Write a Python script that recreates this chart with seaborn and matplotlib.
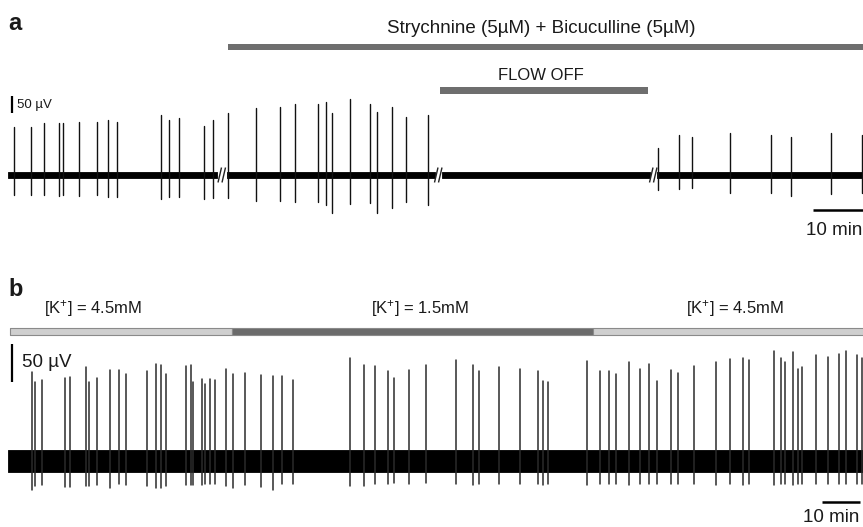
import numpy as np
import pandas as pd
import matplotlib
matplotlib.use("Agg")
import matplotlib.pyplot as plt
import seaborn as sns

# ---------------- Panel a data (time in min from trace start, amplitudes in µV) -------------
a_seg_start = [0.0, 43.8, 86.8, 129.8]
a_seg_end = [41.8, 85.4, 128.4, 171.5]
a_spike_t = [1.2, 4.6, 7.2, 10.2, 11.0, 14.2, 17.8, 20.0, 21.8, 30.6, 32.2, 34.2, 39.2, 41.0,
             44.0, 49.6, 54.4, 57.4, 62.0, 63.6, 64.8, 68.4, 72.4, 73.8, 76.8, 79.6, 84.0,
             130.0, 134.2, 136.8, 144.4, 152.6, 156.6, 164.6, 170.8]
a_spike_up = [142, 142, 152, 152, 152, 156, 156, 162, 156, 177, 162, 167, 145, 162,
              181, 198, 201, 208, 208, 216, 181, 223, 208, 186, 201, 170, 176,
              80, 118, 113, 124, 118, 113, 124, 118]
a_spike_down = [59, 59, 59, 62, 59, 62, 59, 66, 66, 72, 64, 66, 72, 69,
                69, 76, 76, 78, 78, 88, 111, 85, 83, 111, 96, 78, 88,
                44, 42, 39, 52, 52, 62, 56, 53]
a_noise_halfwidth = 9.5
a_drug_bar = (44.0, 172.0)
a_drug_label = "Strychnine (5µM) + Bicuculline (5µM)"
a_flow_bar = (86.4, 128.0)
a_flow_label = "FLOW OFF"

# ---------------- Panel b data ----------------
b_trace = (0.0, 225.5)
b_spike_t = [6.39, 7.11, 8.95, 14.92, 16.39, 20.53, 21.39, 23.50, 26.76, 29.21, 30.97,
             36.58, 39.03, 40.34, 41.66, 46.76, 48.08, 48.76, 51.05, 51.84, 53.16, 54.39,
             57.29, 59.13, 62.29, 66.58, 69.66, 72.18, 75.00,
             89.92, 93.68, 96.50, 99.92, 101.66, 105.61, 110.00, 117.82, 122.37, 123.95,
             129.13, 134.74, 139.39, 140.71, 142.11,
             152.24, 155.79, 158.16, 160.00, 163.42, 166.32, 168.76, 170.71, 174.47, 176.24,
             180.53, 186.24, 190.08, 193.34, 195.00, 201.58, 203.50, 204.55, 206.58, 207.82,
             208.95, 212.63, 215.79, 218.61, 220.45, 223.34, 224.74]
b_spike_up = [113.7, 100.9, 103.8, 106.4, 107.3, 120.1, 101.3, 106.4, 116.7, 116.7, 111.5,
              115.0, 124.4, 123.5, 111.5, 121.8, 123.1, 100.9, 105.1, 98.3, 105.1, 103.5,
              118.3, 111.2, 113.2, 110.6, 108.6, 109.0, 103.5,
              132.0, 122.7, 121.8, 115.4, 106.0, 116.3, 123.5, 129.9, 123.1, 115.4,
              120.9, 118.3, 115.4, 103.0, 101.3,
              128.8, 115.0, 115.0, 111.5, 126.5, 118.3, 124.4, 103.0, 116.7, 112.4,
              121.8, 126.5, 130.4, 132.4, 129.1, 141.4, 132.4, 126.5, 139.7, 117.6,
              120.1, 135.9, 133.7, 136.8, 141.0, 135.9, 131.7]
b_spike_down = [37, 32, 31, 33, 33, 32, 32, 31, 35, 29, 31,
                32, 35, 35, 32, 31, 31, 31, 31, 30, 30, 29,
                32, 35, 31, 33, 37, 30, 30,
                32, 32, 29, 29, 28, 29, 28, 30, 31, 30,
                30, 29, 30, 31, 30,
                31, 30, 30, 29, 31, 30, 29, 30, 30, 29,
                30, 31, 30, 31, 30, 31, 30, 30, 31, 30,
                30, 29, 30, 30, 29, 30, 30]
b_noise_halfwidth = 14.7
b_k_bars = [(0.6, 59.0), (59.0, 154.0), (154.0, 226.0)]
b_k_labels = ["[K$^{+}$] = 4.5mM", "[K$^{+}$] = 1.5mM", "[K$^{+}$] = 4.5mM"]
b_k_colors = ["#cfcfcf", "#6b6b6b", "#cfcfcf"]

# ---------------- figure ----------------
sns.set_theme(style="white")
plt.rcParams["font.family"] = ["Liberation Sans", "DejaVu Sans"]
plt.rcParams["mathtext.fontset"] = "custom"
plt.rcParams["mathtext.rm"] = "Liberation Sans"
plt.rcParams["mathtext.it"] = "Liberation Sans"

W, H = 863, 527
fig = plt.figure(figsize=(W / 100, H / 100), dpi=100)
fig.patch.set_facecolor("white")

TXT = "#1a1a1a"
BAR = "#6e6e6e"


def ftext(x, y, s, **kw):
    fig.text(x / W, 1 - y / H, s, color=kw.pop("color", TXT), **kw)


def spikes_df(ts, ups, downs):
    rows = []
    for i, (t, u, d) in enumerate(zip(ts, ups, downs)):
        rows.append({"t": t, "v": -d, "id": i})
        rows.append({"t": t, "v": u, "id": i})
    return pd.DataFrame(rows)


# ---- panel a axes: px x = 8 + 5 t ; baseline at px 175, 17 px = 50 µV
a_top, a_bot = 0, 262
ax_a = fig.add_axes([0, 1 - a_bot / H, 1, (a_bot - a_top) / H])
a_sc = 50 / 17
ax_a.set_xlim(-8 / 5, (W - 8) / 5)
ax_a.set_ylim(-(a_bot - 175) * a_sc, (175 - a_top) * a_sc)
ax_a.axis("off")

for s, e in zip(a_seg_start, a_seg_end):
    ax_a.fill_between([s, e], -a_noise_halfwidth, a_noise_halfwidth, color="black", lw=0.6)
df_a = spikes_df(a_spike_t, a_spike_up, a_spike_down)
sns.lineplot(data=df_a, x="t", y="v", units="id", estimator=None, sort=False,
             color="#111111", lw=1.0, ax=ax_a, legend=False)
# break marks
for e, s in zip(a_seg_end[:-1], a_seg_start[1:]):
    m = (e + s) / 2
    for off in (-0.45, 0.35):
        ax_a.plot([m + off - 0.35, m + off + 0.35], [-22, 22], color="#222222", lw=1.0,
                  solid_capstyle="butt")

# drug bars
ax_a.fill_between(a_drug_bar, (175 - 50) * a_sc, (175 - 44) * a_sc, color=BAR, lw=0)
ax_a.fill_between(a_flow_bar, (175 - 94) * a_sc, (175 - 87) * a_sc, color=BAR, lw=0)
# scale bars
ax_a.plot([0.8, 0.8], [182, 232], color="black", lw=1.6, solid_capstyle="butt")
ax_a.plot([161.0, 171.0], [-103, -103], color="black", lw=1.8, solid_capstyle="butt")

# ---- panel b axes: px x = 8 + 3.8 t ; baseline px 461 ; 39 px = 50 µV
b_top, b_bot = 262, 527
ax_b = fig.add_axes([0, 0, 1, (b_bot - b_top) / H])
b_sc = 50 / 39
ax_b.set_xlim(-8 / 3.8, (W - 8) / 3.8)
ax_b.set_ylim(-(b_bot - 461) * b_sc, (461 - b_top) * b_sc)
ax_b.axis("off")

ax_b.fill_between(b_trace, -b_noise_halfwidth, b_noise_halfwidth, color="black", lw=0.6)
df_b = spikes_df(b_spike_t, b_spike_up, b_spike_down)
sns.lineplot(data=df_b, x="t", y="v", units="id", estimator=None, sort=False,
             color="#2b2b2b", lw=1.1, ax=ax_b, legend=False)

for (s, e), c in zip(b_k_bars, b_k_colors):
    ax_b.fill_between([s, e], (461 - 335) * b_sc, (461 - 328) * b_sc, color=c,
                      edgecolor="#8a8a8a", lw=0.8)
ax_b.plot([1.05, 1.05], [101, 150], color="black", lw=1.6, solid_capstyle="butt")
ax_b.plot([214.2, 224.2], [-52.6, -52.6], color="black", lw=1.8, solid_capstyle="butt")

# ---- texts
ftext(8, 30, "a", fontsize=17, fontweight="bold", va="baseline")
ftext(541, 33, a_drug_label, fontsize=13.5, ha="center", va="baseline")
ftext(541, 80, a_flow_label, fontsize=12, ha="center", va="baseline")
ftext(17, 108, "50 µV", fontsize=9.5, va="baseline")
ftext(806, 235, "10 min", fontsize=13.5, va="baseline")

ftext(8, 296, "b", fontsize=17, fontweight="bold", va="baseline")
ftext(93, 313, b_k_labels[0], fontsize=12, ha="center", va="baseline")
ftext(420, 313, b_k_labels[1], fontsize=12, ha="center", va="baseline")
ftext(735, 313, b_k_labels[2], fontsize=12, ha="center", va="baseline")
ftext(22, 367, "50 µV", fontsize=13.5, va="baseline")
ftext(803, 522, "10 min", fontsize=13.5, va="baseline")

fig.savefig("out.png", dpi=100, facecolor="white")
